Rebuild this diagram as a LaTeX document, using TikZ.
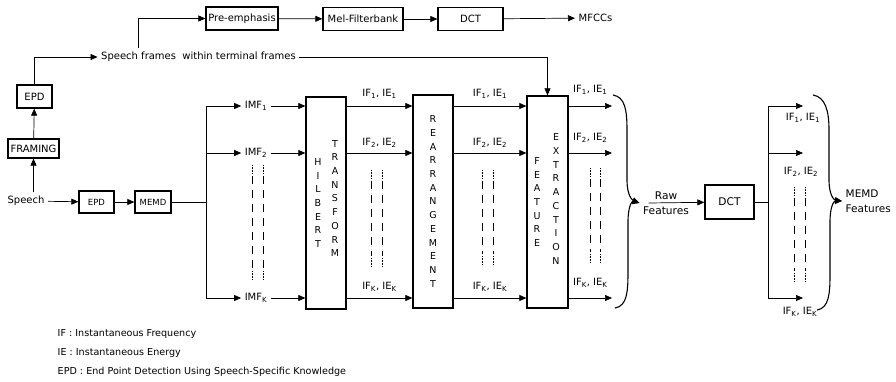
\documentclass[tikz,border=0pt]{standalone}
\usepackage{fontspec}
\setmainfont{DejaVu Sans}
\usepackage{tikz}
\usetikzlibrary{arrows.meta}

\begin{document}
\begin{tikzpicture}[x=1pt,y=-1pt,line width=0.7pt,
  font=\fontsize{10}{12}\selectfont,
  >={Triangle[length=7pt,width=6pt]},
  block/.style={draw,line width=1.3pt,minimum height=23pt,inner sep=2pt},
  smallblock/.style={block,minimum height=22pt,font=\fontsize{8.5}{10}\selectfont},
  tallblock/.style={draw,line width=1.3pt,minimum width=40pt,minimum height=212pt},
  letters/.style={align=center,inner sep=0pt,font=\fontsize{9.5}{13.7}\selectfont},
  lbl/.style={inner sep=1pt},
  brace/.style={line width=1.1pt}]
  \useasboundingbox (0,0) rectangle (896,382);

  \node (speech) at (26,201) {Speech};
  \node[block,minimum width=51pt,minimum height=19pt] (framing) at (33.5,148.5) {FRAMING};
  \node[block,minimum width=35pt] (epdA) at (34.5,96.5) {EPD};
  \node (frames) at (198.5,57) {Speech frames~ within terminal frames};
  \node[block,minimum width=72pt] (pre) at (242,18.5) {Pre-emphasis};
  \node[block,minimum width=80pt] (mel) at (363,19) {Mel-Filterbank};
  \node[block,minimum width=65pt] (dct) at (470.5,19) {DCT};
  \node[anchor=west] (mfcc) at (575,18) {MFCCs};

  \node[smallblock,minimum width=35pt] (epdB) at (96.5,202) {EPD};
  \node[smallblock,minimum width=36pt] (memd) at (153,202) {MEMD};
  \coordinate (split) at (206,202);

  \coordinate (r1) at (0,106);
  \coordinate (r2) at (0,153);
  \coordinate (rk) at (0,298);

  \node (imf1) at (256,106) {IMF\textsubscript{1}};
  \node (imf2) at (256,153) {IMF\textsubscript{2}};
  \node (imfk) at (256,298) {IMF\textsubscript{K}};

  \node[tallblock] (hil) at (326,203) {};
  \node[letters] (hiltxt) at (318,203) {H\\I\\L\\B\\E\\R\\T};
  \node[letters] (trtxt) at (335,198.5) {T\\R\\A\\N\\S\\F\\O\\R\\M};
  \node[tallblock,letters,minimum height=213pt] (rea) at (433,201.5) {R\\E\\A\\R\\R\\A\\N\\G\\E\\M\\E\\N\\T};
  \node[tallblock,minimum width=41pt] (fe) at (547.5,202) {};
  \node[letters] (fetxt) at (537,202) {F\\E\\A\\T\\U\\R\\E};
  \node[letters] (extxt) at (556,199) {E\\X\\T\\R\\A\\C\\T\\I\\O\\N};

  \coordinate (bt) at (613,95);
  \coordinate (bb) at (615,308);
  \node[align=center,font=\fontsize{10.6}{15}\selectfont] (raw) at (666,203) {Raw\\Features};
  \coordinate (tip) at (raw.west);
  \node[block,minimum width=49pt,minimum height=34pt,font=\fontsize{10.6}{12}\selectfont] (dct2) at (729.5,202) {DCT};
  \coordinate (split2) at (768,202);
  \coordinate (o1) at (803,106);
  \coordinate (o2) at (803,153);
  \coordinate (ok) at (803,298);
  \node[lbl] (l1) at (803,118) {IF\textsubscript{1}, IE\textsubscript{1}};
  \node[lbl] (l2) at (801,172) {IF\textsubscript{2}, IE\textsubscript{2}};
  \node[lbl] (lk) at (800,312) {IF\textsubscript{K}, IE\textsubscript{K}};
  \coordinate (ct) at (813,95);
  \coordinate (cb) at (817,310);
  \node[align=left,anchor=west,font=\fontsize{10.5}{15}\selectfont] (memdf) at (842,201) {MEMD\\Features};

  \node[anchor=west,font=\fontsize{9.6}{11}\selectfont] (lif) at (54,334) {IF : Instantaneous Frequency};
  \node[anchor=west,font=\fontsize{9.6}{11}\selectfont] (lie) at (54,353) {IE : Instantaneous Energy};
  \node[anchor=west,font=\fontsize{9.6}{11}\selectfont] (lepd) at (54,372) {EPD : End Point Detection Using Speech-Specific Knowledge};

  \draw[->] (speech.north -| framing) -- (framing);
  \draw[->] (framing) -- (epdA);
  \draw[->] (epdA) |- (frames);
  \draw[->] ([xshift=41pt]frames.north west) |- (pre);
  \draw[->] (pre) -- (mel);
  \draw[->] (mel) -- (dct);
  \draw[->] (dct) -- (mfcc);
  \draw[->] (frames) -| (fe);

  \draw[->] (speech) -- (epdB);
  \draw[->] (epdB) -- (memd);
  \draw (memd) -- (split);
  \draw[->] (split) |- (imf1);
  \draw[->] (split) |- (imf2);
  \draw[->] (split) |- (imfk);
  \draw[->] (imf1) -- (imf1 -| hil.west);
  \draw[->] (imf2) -- (imf2 -| hil.west);
  \draw[->] (imfk) -- (imfk -| hil.west);

  \draw[->] (hil.east |- r1) -- node[lbl,above=6pt] {IF\textsubscript{1}, IE\textsubscript{1}} (rea.west |- r1);
  \draw[->] (hil.east |- r2) -- node[lbl,above=4pt] {IF\textsubscript{2}, IE\textsubscript{2}} (rea.west |- r2);
  \draw[->] (hil.east |- rk) -- node[lbl,above=5pt] {IF\textsubscript{K}, IE\textsubscript{K}} (rea.west |- rk);
  \draw[->] (rea.east |- r1) -- node[lbl,above=6pt] {IF\textsubscript{1}, IE\textsubscript{1}} (fe.west |- r1);
  \draw[->] (rea.east |- r2) -- node[lbl,above=4pt] {IF\textsubscript{2}, IE\textsubscript{2}} (fe.west |- r2);
  \draw[->] (rea.east |- rk) -- node[lbl,above=5pt] {IF\textsubscript{K}, IE\textsubscript{K}} (fe.west |- rk);
  \draw[->] (fe.east |- r1) -- node[lbl,above=10pt] {IF\textsubscript{1}, IE\textsubscript{1}} ([xshift=-1pt]bt |- r1);
  \draw[->] (fe.east |- r2) -- node[lbl,above=9pt] {IF\textsubscript{2}, IE\textsubscript{2}} ([xshift=-1pt]bt |- r2);
  \draw[->] (fe.east |- rk) -- node[lbl,above=9pt] {IF\textsubscript{K}, IE\textsubscript{K}} ([xshift=-1pt]bt |- rk);

  \draw[->,brace] (bt) .. controls (625,97) and (627,110) .. (627,130) -- (627,180) .. controls (627,195) and (632,200) .. (tip);
  \draw[->,brace] (bb) .. controls (627,306) and (628,292) .. (628,272) -- (628,222) .. controls (628,206) and (632,201) .. (tip);
  \draw[->] ([xshift=9pt]raw.west) -- (dct2);
  \draw (dct2) -- (split2);
  \draw[->] (split2) |- (o1);
  \draw[->] (split2) |- (o2);
  \draw[->] (split2) |- (ok);
  \draw[->,brace] (ct) .. controls (825,97) and (829,110) .. (829,130) -- (829,180) .. controls (829,195) and (834,200) .. (memdf.west);
  \draw[->,brace] (cb) .. controls (829,308) and (830,294) .. (830,274) -- (830,222) .. controls (830,206) and (834,201) .. (memdf.west);

  \foreach \x/\a/\b in {252/165/280,263/165/280,371/170/267,382/170/267,482/170/265,493/170/265,590/168/263,600/168/263,794/187/282,805/187/282}{
    \draw[densely dotted,line width=0.6pt] (\x,\a) -- (\x,\a+9);
    \draw[dash pattern=on 8pt off 6pt,line width=0.6pt] (\x,\a+11) -- (\x,\b-11);
    \draw[densely dotted,line width=0.6pt] (\x,\b-9) -- (\x,\b);
  }
\end{tikzpicture}
\end{document}
